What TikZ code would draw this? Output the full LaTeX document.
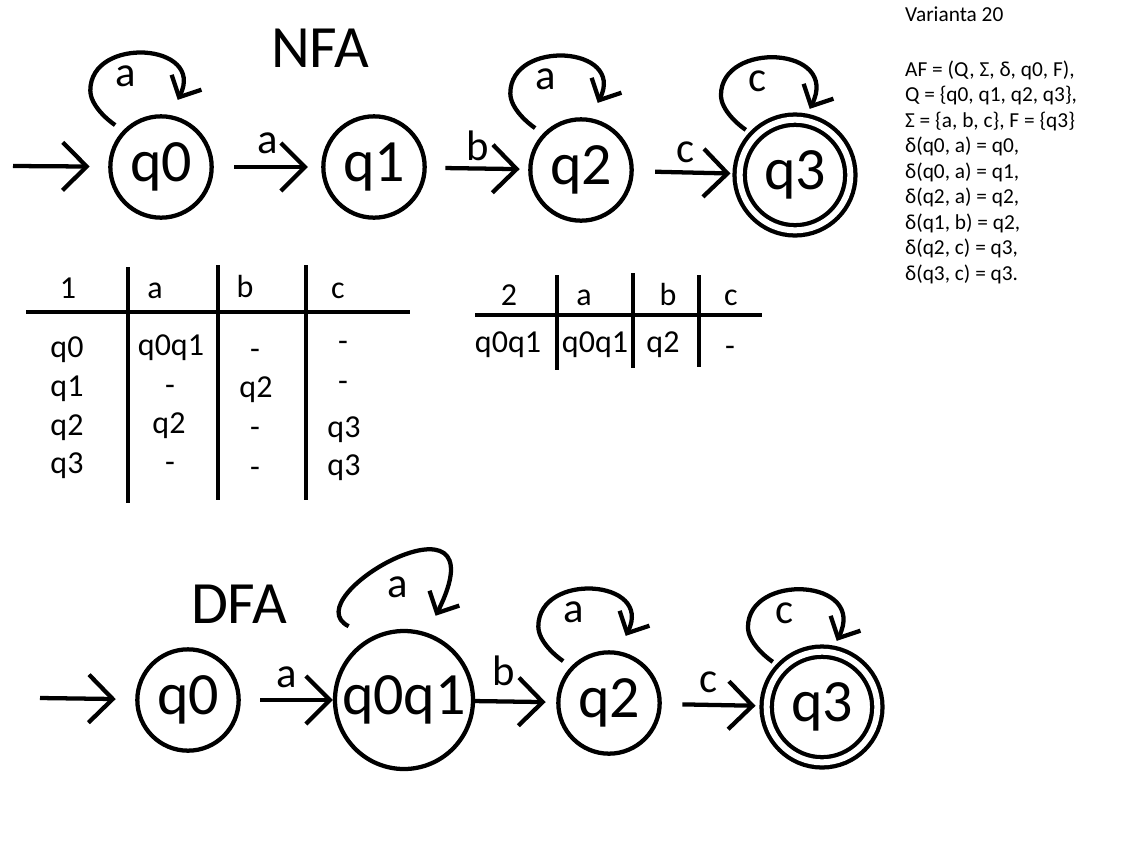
\documentclass[tikz,border=0pt]{standalone}
\usepackage{fontspec}
\setmainfont{Carlito}
\usepackage{tikz}
\usetikzlibrary{arrows.meta, positioning}

\newcommand\statefont{\fontsize{45}{54}\selectfont}
\newcommand\edgefont{\fontsize{32}{38}\selectfont}
\newcommand\cellfont{\fontsize{24}{29}\selectfont}
\newcommand\notefont{\fontsize{16}{19}\selectfont}

\begin{document}
\begin{tikzpicture}[x=0.75pt,y=-0.75pt,line width=3.2pt,
                    state/.style={circle,draw,inner sep=0pt,minimum size=76pt,font=\statefont},
                    accept/.style={state,double,double distance=4.5pt,minimum size=83pt},
                    trans/.style={-{Straight Barb[length=18pt,width=36pt]}},
                    selfloop/.style={-{Straight Barb[length=12.5pt,width=25pt]},shorten <=7.1pt,shorten >=12.7pt},
                    lbl/.style={font=\edgefont,inner sep=0pt},
                    cell/.style={font=\cellfont,anchor=base,inner sep=0pt},
                    note/.style={font=\notefont,anchor=base west,inner sep=0pt}]

 \useasboundingbox (0,0) rectangle (1130,840);

 % NFA
 \node[font=\statefont,anchor=base] (nfa) at (320,67) {NFA};
 \node[state] (n0) at (161,167) {q0};
 \node[state] (n1) at (374,167) {q1};
 \node[state] (n2) at (581,170) {q2};
 \node[accept] (n3) at (795,175) {q3};
 \coordinate (nstart) at (13,166);

 \draw[trans,shorten >=13.9pt] (nstart) -- (n0);
 \draw[trans,shorten <=15.4pt,shorten >=10pt] (n0) -- node[lbl,above=8.25pt] (na) {a} (n1);
 \draw[trans,shorten <=13.9pt,shorten >=6.4pt] (n1) -- node[lbl,above=4.5pt] (nb) {b} (n2);
 \draw[trans,shorten <=16pt,shorten >=5.3pt] (n2) -- node[lbl,above=6pt] (nc) {c} (n3);

 \draw[selfloop] (n0.136) .. controls +(-15,-10) and +(0,15) .. ++(-32.7,-39.9)
      .. controls +(0,-55) and +(36,-72) .. (n0.80) node[lbl,pos=0.38,below=6.75pt] (la0) {a};
 \draw[selfloop] (n2.136) .. controls +(-15,-10) and +(0,15) .. ++(-32.7,-39.9)
      .. controls +(0,-55) and +(36,-72) .. (n2.80) node[lbl,pos=0.38,below=6.75pt] (la2) {a};
 \draw[selfloop,shorten >=8pt] (n3.136) .. controls +(-15,-10) and +(0,15) .. ++(-32.7,-39.9)
      .. controls +(0,-55) and +(36,-72) .. (n3.80) node[lbl,pos=0.38,below=6.75pt] (lc3) {c};

 % table 1
 \draw (26,312) -- (410,312);
 \draw (128,267) -- (128,503);
 \draw (218,265) -- (218,500);
 \draw (306,265) -- (306,500);
 \node[cell] (h1) at (68,298) {1};
 \node[cell] (ha) at (155,298) {a};
 \node[cell] (hb) at (245,297) {b};
 \node[cell] (hc) at (338,298) {c};
 \node[cell] (r0) at (67,357) {q0};
 \node[cell] (r1) at (67,396) {q1};
 \node[cell] (r2) at (67,435) {q2};
 \node[cell] (r3) at (67,473) {q3};
 \node[cell] (a0) at (171,355) {q0q1};
 \node[cell] (a1) at (170,395) {-};
 \node[cell] (a2) at (169,433) {q2};
 \node[cell] (a3) at (170,472) {-};
 \node[cell] (b0) at (255,359) {-};
 \node[cell] (b1) at (256,397) {q2};
 \node[cell] (b2) at (255,437) {-};
 \node[cell] (b3) at (255,477) {-};
 \node[cell] (c0) at (343,351) {-};
 \node[cell] (c1) at (343,391) {-};
 \node[cell] (c2) at (344,437) {q3};
 \node[cell] (c3) at (344,475) {q3};

 % table 2
 \draw (475,315) -- (762,315);
 \draw (557,275) -- (557,370);
 \draw (633,273) -- (633,368);
 \draw (699,275) -- (699,367);
 \node[cell] (h2) at (509,305) {2};
 \node[cell] (h2a) at (584,305) {a};
 \node[cell] (h2b) at (668,305) {b};
 \node[cell] (h2c) at (731,305) {c};
 \node[cell] (s0) at (508,352) {q0q1};
 \node[cell] (sa) at (595,352) {q0q1};
 \node[cell] (sb) at (663,352) {q2};
 \node[cell] (sc) at (730,356) {-};

 % definition
 \node[note] (v0) at (903,21) {Varianta 20};
 \node[note] (l1) at (903,76) {AF = (Q, Σ, δ, q0, F),};
 \node[note] (l2) at (903,101.5) {Q = \{q0, q1, q2, q3\},};
 \node[note] (l3) at (903,127) {Σ = \{a, b, c\}, F = \{q3\}};
 \node[note] (l4) at (903,152.5) {δ(q0, a) = q0,};
 \node[note] (l5) at (903,178) {δ(q0, a) = q1,};
 \node[note] (l6) at (903,203.5) {δ(q2, a) = q2,};
 \node[note] (l7) at (903,229) {δ(q1, b) = q2,};
 \node[note] (l8) at (903,254.5) {δ(q2, c) = q3,};
 \node[note] (l9) at (903,280) {δ(q3, c) = q3.};

 % DFA
 \node[font=\statefont,anchor=base] (dfa) at (239,623) {DFA};
 \node[state] (d0) at (188,700) {q0};
 \node[state,minimum size=103.5pt] (d01) at (404,700) {q0q1};
 \node[state] (d2) at (609,703) {q2};
 \node[accept] (d3) at (822,707) {q3};
 \coordinate (dstart) at (40,698);

 \draw[trans,shorten >=14.6pt] (dstart) -- (d0);
 \draw[trans,shorten <=14.6pt] (d0) -- node[lbl,above=7.5pt] (da) {a} (d01);
 \draw[trans,shorten >=7.9pt] (d01) -- node[lbl,pos=0.35,above=10.5pt] (db) {b} (d2);
 \draw[trans,shorten <=15.4pt,shorten >=6.75pt] (d2) -- node[lbl,pos=0.45,above=7.5pt] (dc) {c} (d3);

 \draw[selfloop,shorten <=18.4pt,shorten >=14.25pt] (d01.118) .. controls +(-80,-40) and +(77.5,-155) .. (d01.71)
      node[lbl,pos=0.5,below=9.75pt] (la01) {a};
 \draw[selfloop] (d2.136) .. controls +(-15,-10) and +(0,15) .. ++(-32.7,-39.9)
      .. controls +(0,-55) and +(36,-72) .. (d2.80) node[lbl,pos=0.38,below=6.75pt] (la2d) {a};
 \draw[selfloop,shorten >=8pt] (d3.136) .. controls +(-15,-10) and +(0,15) .. ++(-32.7,-39.9)
      .. controls +(0,-55) and +(36,-72) .. (d3.80) node[lbl,pos=0.38,below=6.75pt] (lc3d) {c};

\end{tikzpicture}
\end{document}
